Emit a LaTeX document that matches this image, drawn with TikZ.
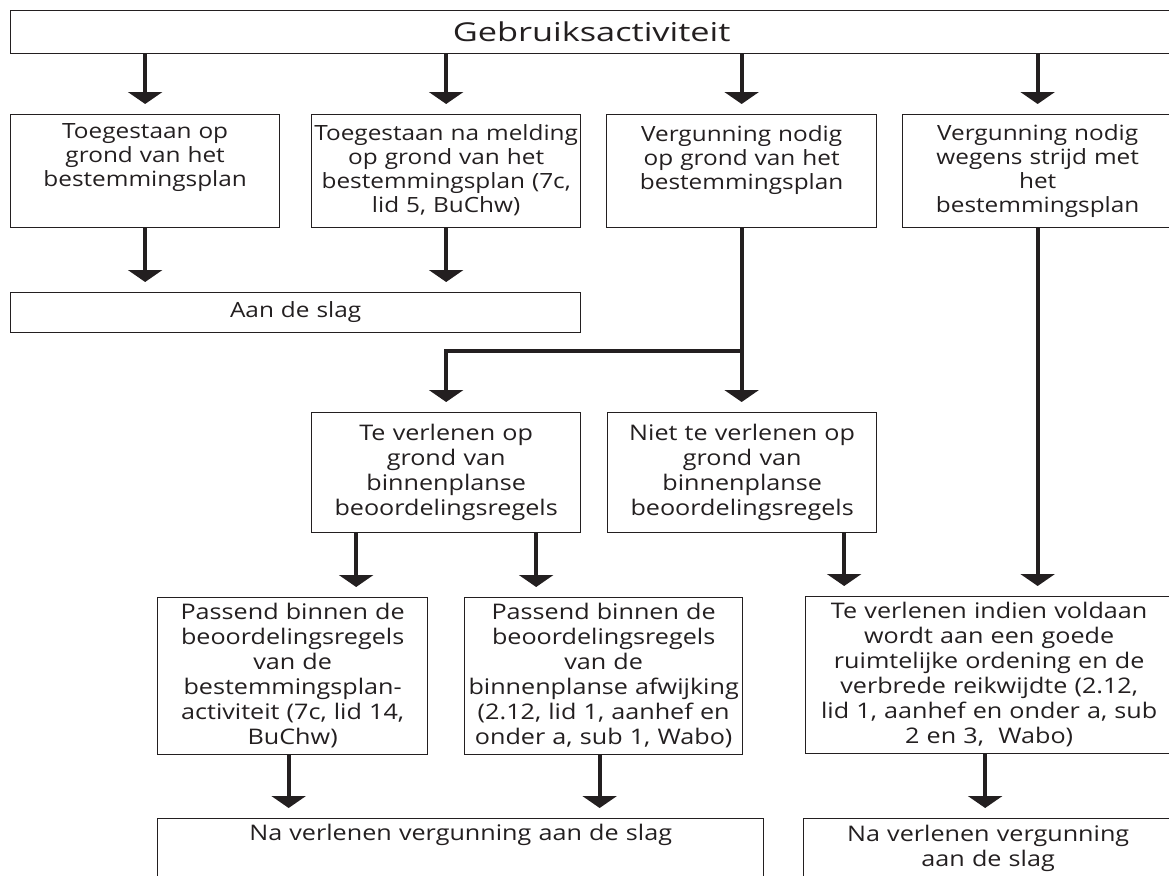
\documentclass[tikz,border=0pt]{standalone}
\usepackage{fontspec}
\setmainfont{Open Sans}
\newfontfamily\rowfont[FakeStretch=1.16]{Open Sans}
\newfontfamily\lowfont[FakeStretch=1.17]{Open Sans}
\newfontfamily\titlefont[FakeStretch=1.32]{Open Sans}
\usetikzlibrary{arrows.meta,calc}
\definecolor{ink}{HTML}{231F20}

\begin{document}
\begin{tikzpicture}[x=1pt,y=-1pt,
    box/.style={draw=ink, line width=1.3pt, inner sep=0pt, align=center, anchor=north west, text=ink, font=\rowfont\fontsize{21}{24}\selectfont},
    low/.style={box, font=\lowfont\fontsize{21.5}{25}\selectfont},
    arr/.style={draw=ink, line width=4pt, -{Triangle[width=34pt,length=12pt]}, shorten >=10pt}]
				\useasboundingbox (0,0) rectangle (1169,875);
				\clip (0,0) rectangle (1169,875);
				% boxes
				\node[box, text width=1162pt, text height=31pt, text depth=12pt, font=\titlefont\fontsize{26}{30}\selectfont] (top) at (10,10) {Gebruiksactiviteit};
				\node[box, text width=269pt, text height=24pt, text depth=89pt] (r1a) at (10,114) {Toegestaan op\\grond van het\\bestemmingsplan};
				\node[box, text width=269pt, text height=26pt, text depth=87pt] (r1b) at (311,114) {Toegestaan na melding\\op grond van het\\bestemmingsplan (7c,\\lid 5, BuChw)};
				\node[box, text width=270pt, text height=27pt, text depth=86pt] (r1c) at (606,114) {Vergunning nodig\\op grond van het\\bestemmingsplan};
				\node[box, text width=270pt, text height=26pt, text depth=87pt] (r1d) at (902,114) {Vergunning nodig\\wegens strijd met\\het\\bestemmingsplan};
				\node[box, text width=570pt, text height=25pt, text depth=15pt] (aan) at (10,292) {Aan de slag};
				\node[low, text width=269pt, text height=28pt, text depth=92pt] (r3a) at (311,412) {Te verlenen op\\grond van\\binnenplanse\\beoordelingsregels};
				\node[low, text width=269pt, text height=28pt, text depth=92pt] (r3b) at (607,412) {Niet te verlenen op\\grond van\\binnenplanse\\beoordelingsregels};
				\node[low, text width=270pt, text height=22pt, text depth=135pt] (r4a) at (157,597) {Passend binnen de\\beoordelingsregels\\van de\\bestemmingsplan-\\activiteit (7c, lid 14,\\BuChw)};
				\node[low, text width=278pt, text height=22pt, text depth=135pt] (r4b) at (464,597) {Passend binnen de\\beoordelingsregels\\van de\\binnenplanse afwijking\\(2.12, lid 1, aanhef en\\onder a, sub 1, Wabo)};
				\node[low, text width=367pt, text height=22pt, text depth=135pt] (r4c) at (805,596) {Te verlenen indien voldaan\\wordt aan een goede\\ruimtelijke ordening en de\\verbrede reikwijdte (2.12,\\lid 1, aanhef en onder a, sub\\2 en 3,\ \ Wabo)};
				\node[low, text width=606pt, text height=22pt, text depth=80pt] (na1) at (157,818) {Na verlenen vergunning aan de slag};
				\node[low, text width=369pt, text height=23pt, text depth=80pt] (na2) at (803,818) {Na verlenen vergunning\\aan de slag};
				% arrows
				\foreach \b in {r1a,r1b,r1c,r1d}
					\draw[arr] (top.south -| \b.north) -- (\b.north);
				\foreach \b in {r1a,r1b}
					\draw[arr] (\b.south) -- (\b.south |- aan.north);
				\coordinate (split) at ($(r1c.south)+(0,123)$);
				\draw[arr] (r1c.south) -- (r1c.south |- r3b.north);
				\draw[arr] (split) -| (r3a.north);
				\draw[arr] ([xshift=-90pt]r3a.south) -- ([xshift=-90pt]r3a.south |- r4a.north);
				\draw[arr] ([xshift=90pt]r3a.south) -- ([xshift=90pt]r3a.south |- r4b.north);
				\draw[arr] ([xshift=102pt]r3b.south) -- ([xshift=102pt]r3b.south |- r4c.north);
				\draw[arr] (r1d.south) -- (r1d.south |- r4c.north);
				\foreach \b/\c in {r4a/na1,r4b/na1,r4c/na2}
					\draw[arr] ([xshift=-4pt]\b.south) -- ([xshift=-4pt]\b.south |- \c.north);
			\end{tikzpicture}
\end{document}
